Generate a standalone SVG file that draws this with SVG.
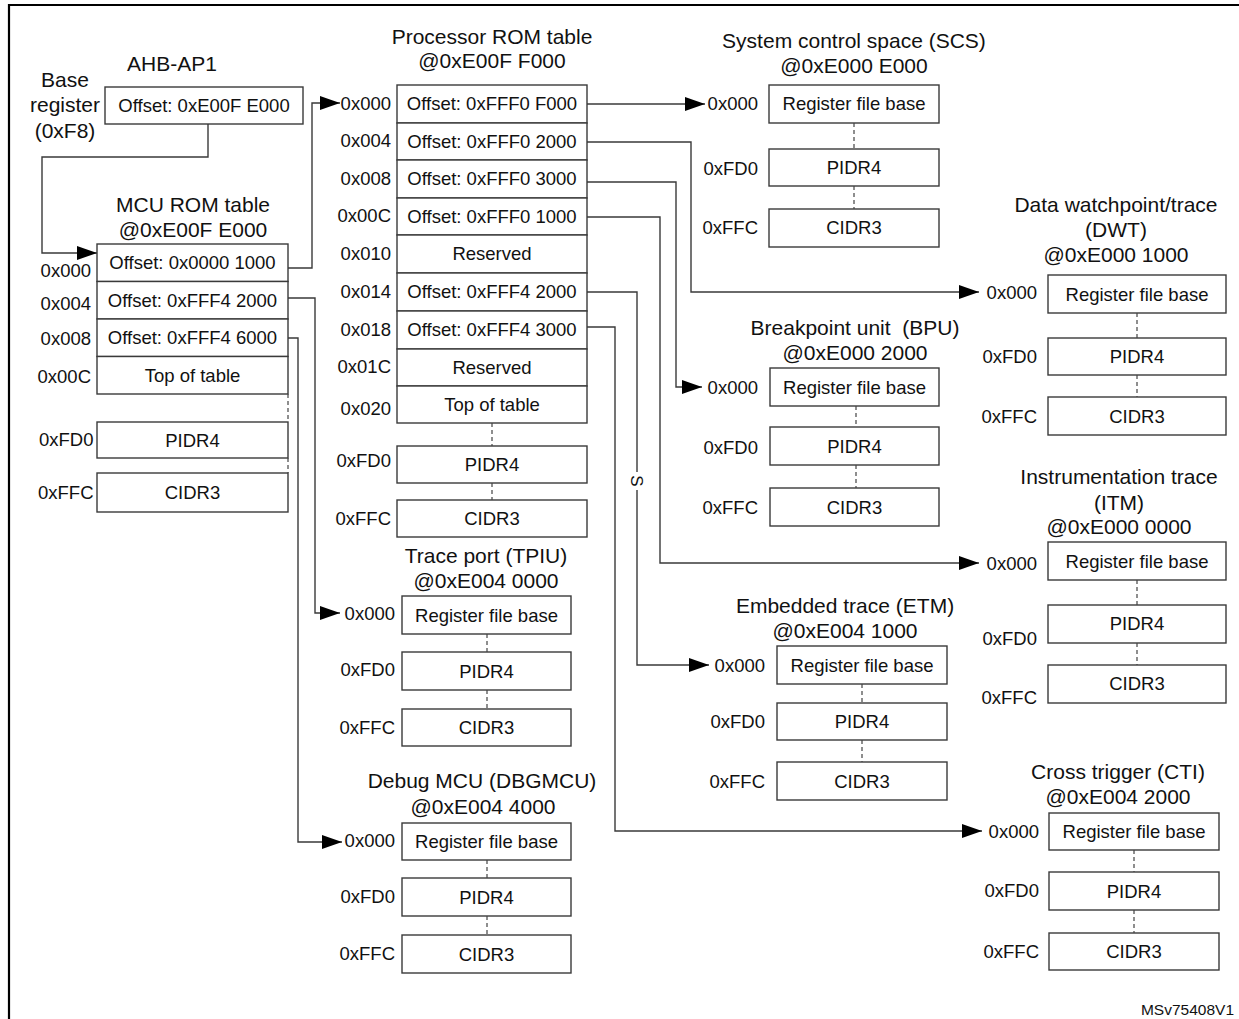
<svg xmlns="http://www.w3.org/2000/svg" width="1239" height="1019" viewBox="0 0 1239 1019">
<style>
.b{fill:#fff;stroke:#3a3a3a;stroke-width:1.4}
.t{font-family:"Liberation Sans",Arial,sans-serif;font-size:18.5px;fill:#111}
.h{font-family:"Liberation Sans",Arial,sans-serif;font-size:21px;fill:#111;text-anchor:middle}
.m{text-anchor:middle}
.e{text-anchor:end}
.c{fill:none;stroke:#3a3a3a;stroke-width:1.4}
.d{fill:none;stroke:#444;stroke-width:1.2;stroke-dasharray:4 3}
</style>
<defs>
<marker id="arr" markerUnits="userSpaceOnUse" markerWidth="20" markerHeight="14" refX="20" refY="7" orient="auto">
<path d="M0,0 L20,7 L0,14 z" fill="#000"/>
</marker>
</defs>
<rect width="1239" height="1019" fill="#fff"/>
<path d="M9,1019 V5 H1239" fill="none" stroke="#000" stroke-width="2.2"/>

<g id="connectors">
<path class="c" d="M208,124 V157 H42 V253 H97" marker-end="url(#arr)"/>
<path class="c" d="M288,268 H312 V103 H340" marker-end="url(#arr)"/>
<path class="c" d="M288,298 H315 V613 H340" marker-end="url(#arr)"/>
<path class="c" d="M288,338 H298 V842 H342" marker-end="url(#arr)"/>
<path class="c" d="M587,104 H705" marker-end="url(#arr)"/>
<path class="c" d="M587,142 H691 V292 H979" marker-end="url(#arr)"/>
<path class="c" d="M587,182 H676 V387 H702" marker-end="url(#arr)"/>
<path class="c" d="M587,217 H660 V563 H979" marker-end="url(#arr)"/>
<path class="c" d="M587,292 H637 V472 M637,490 V665 H709" marker-end="url(#arr)"/>
<path class="c" d="M587,327 H615 V831 H982" marker-end="url(#arr)"/>
<text class="t m" transform="translate(637,481) rotate(90)" x="0" y="6" style="font-size:17px">S</text>
</g>

<g id="ahb-ap1">
<text class="h" x="172" y="70.5">AHB-AP1</text>
<text class="h" x="65" y="86.5">Base</text>
<text class="h" x="65" y="112">register</text>
<text class="h" x="65" y="137.5">(0xF8)</text>
<rect class="b" x="105" y="87" width="198" height="37"/>
<text class="t m" x="204" y="111.6">Offset: 0xE00F E000</text>
</g>

<g id="mcu-rom-table">
<text class="h" x="193" y="211.5">MCU ROM table</text>
<text class="h" x="193" y="236.5">@0xE00F E000</text>
<rect class="b" x="97" y="244" width="191" height="37.5"/>
<rect class="b" x="97" y="281.5" width="191" height="37.5"/>
<rect class="b" x="97" y="319" width="191" height="37.5"/>
<rect class="b" x="97" y="356.5" width="191" height="37.5"/>
<rect class="b" x="97" y="422" width="191" height="36"/>
<rect class="b" x="97" y="473" width="191" height="39"/>
<path class="d" d="M288,394 V422 M288,458 V473"/>
<text class="t m" x="192.5" y="269">Offset: 0x0000 1000</text>
<text class="t m" x="192.5" y="306.6">Offset: 0xFFF4 2000</text>
<text class="t m" x="192.5" y="344.3">Offset: 0xFFF4 6000</text>
<text class="t m" x="192.5" y="382.3">Top of table</text>
<text class="t m" x="192.5" y="446.6">PIDR4</text>
<text class="t m" x="192.5" y="499">CIDR3</text>
<text class="t e" x="91" y="276.6">0x000</text>
<text class="t e" x="91" y="309.6">0x004</text>
<text class="t e" x="91" y="344.6">0x008</text>
<text class="t e" x="91" y="382.6">0x00C</text>
<text class="t e" x="93.5" y="445.6">0xFD0</text>
<text class="t e" x="93.5" y="498.6">0xFFC</text>
</g>

<g id="processor-rom-table">
<text class="h" x="492" y="43.5">Processor ROM table</text>
<text class="h" x="492" y="67.5">@0xE00F F000</text>
<rect class="b" x="397" y="85" width="190" height="38"/>
<rect class="b" x="397" y="123" width="190" height="37"/>
<rect class="b" x="397" y="160" width="190" height="38"/>
<rect class="b" x="397" y="198" width="190" height="37"/>
<rect class="b" x="397" y="235" width="190" height="38"/>
<rect class="b" x="397" y="273" width="190" height="38"/>
<rect class="b" x="397" y="311" width="190" height="38"/>
<rect class="b" x="397" y="349" width="190" height="37"/>
<rect class="b" x="397" y="386" width="190" height="37"/>
<rect class="b" x="397" y="446" width="190" height="37"/>
<rect class="b" x="397" y="500" width="190" height="37"/>
<path class="d" d="M492,423 V446 M492,483 V500"/>
<text class="t m" x="492" y="110.3">Offset: 0xFFF0 F000</text>
<text class="t m" x="492" y="147.8">Offset: 0xFFF0 2000</text>
<text class="t m" x="492" y="185.3">Offset: 0xFFF0 3000</text>
<text class="t m" x="492" y="222.8">Offset: 0xFFF0 1000</text>
<text class="t m" x="492" y="260.3">Reserved</text>
<text class="t m" x="492" y="298.3">Offset: 0xFFF4 2000</text>
<text class="t m" x="492" y="336">Offset: 0xFFF4 3000</text>
<text class="t m" x="492" y="373.6">Reserved</text>
<text class="t m" x="492" y="410.8">Top of table</text>
<text class="t m" x="492" y="470.8">PIDR4</text>
<text class="t m" x="492" y="525">CIDR3</text>
<text class="t e" x="391" y="109.6">0x000</text>
<text class="t e" x="391" y="147.3">0x004</text>
<text class="t e" x="391" y="184.6">0x008</text>
<text class="t e" x="391" y="222.3">0x00C</text>
<text class="t e" x="391" y="259.6">0x010</text>
<text class="t e" x="391" y="298.3">0x014</text>
<text class="t e" x="391" y="335.9">0x018</text>
<text class="t e" x="391" y="373.3">0x01C</text>
<text class="t e" x="391" y="414.6">0x020</text>
<text class="t e" x="391" y="466.6">0xFD0</text>
<text class="t e" x="391" y="524.6">0xFFC</text>
</g>

<g id="scs">
<text class="h" x="854" y="47.5">System control space (SCS)</text>
<text class="h" x="854" y="72.5">@0xE000 E000</text>
<rect class="b" x="769" y="85" width="170" height="38"/>
<rect class="b" x="769" y="149" width="170" height="37"/>
<rect class="b" x="769" y="209" width="170" height="38"/>
<path class="d" d="M854,123 V149 M854,186 V209"/>
<text class="t m" x="854" y="110.3">Register file base</text>
<text class="t m" x="854" y="174.1">PIDR4</text>
<text class="t m" x="854" y="234.3">CIDR3</text>
<text class="t e" x="758" y="110">0x000</text>
<text class="t e" x="758" y="174.6">0xFD0</text>
<text class="t e" x="758" y="233.6">0xFFC</text>
</g>

<g id="dwt">
<text class="h" x="1116" y="211.5">Data watchpoint/trace</text>
<text class="h" x="1116" y="236.5">(DWT)</text>
<text class="h" x="1116" y="261.5">@0xE000 1000</text>
<rect class="b" x="1048" y="275" width="178" height="38"/>
<rect class="b" x="1048" y="338" width="178" height="37"/>
<rect class="b" x="1048" y="397" width="178" height="38"/>
<path class="d" d="M1137,313 V338 M1137,375 V397"/>
<text class="t m" x="1137" y="300.6">Register file base</text>
<text class="t m" x="1137" y="363">PIDR4</text>
<text class="t m" x="1137" y="422.6">CIDR3</text>
<text class="t e" x="1037" y="298.6">0x000</text>
<text class="t e" x="1037" y="363">0xFD0</text>
<text class="t e" x="1037" y="422.6">0xFFC</text>
</g>

<g id="bpu">
<text class="h" x="855" y="334.5" xml:space="preserve">Breakpoint unit  (BPU)</text>
<text class="h" x="855" y="359.5">@0xE000 2000</text>
<rect class="b" x="770" y="368" width="169" height="38"/>
<rect class="b" x="770" y="427" width="169" height="38"/>
<rect class="b" x="770" y="488" width="169" height="38"/>
<path class="d" d="M856,406 V427 M856,465 V488"/>
<text class="t m" x="854.5" y="393.6">Register file base</text>
<text class="t m" x="854.5" y="452.6">PIDR4</text>
<text class="t m" x="854.5" y="513.6">CIDR3</text>
<text class="t e" x="758" y="393.6">0x000</text>
<text class="t e" x="758" y="453.6">0xFD0</text>
<text class="t e" x="758" y="513.6">0xFFC</text>
</g>

<g id="itm">
<text class="h" x="1119" y="484">Instrumentation trace</text>
<text class="h" x="1119" y="509.5">(ITM)</text>
<text class="h" x="1119" y="534">@0xE000 0000</text>
<rect class="b" x="1048" y="542" width="178" height="38"/>
<rect class="b" x="1048" y="605" width="178" height="38"/>
<rect class="b" x="1048" y="665" width="178" height="38"/>
<path class="d" d="M1137,580 V605 M1137,643 V665"/>
<text class="t m" x="1137" y="567.6">Register file base</text>
<text class="t m" x="1137" y="629.6">PIDR4</text>
<text class="t m" x="1137" y="690">CIDR3</text>
<text class="t e" x="1037" y="569.6">0x000</text>
<text class="t e" x="1037" y="644.6">0xFD0</text>
<text class="t e" x="1037" y="703.6">0xFFC</text>
</g>

<g id="tpiu">
<text class="h" x="486" y="562.5">Trace port (TPIU)</text>
<text class="h" x="486" y="587.5">@0xE004 0000</text>
<rect class="b" x="402" y="596" width="169" height="38"/>
<rect class="b" x="402" y="652" width="169" height="38"/>
<rect class="b" x="402" y="709" width="169" height="37"/>
<path class="d" d="M487,634 V652 M487,690 V709"/>
<text class="t m" x="486.5" y="621.6">Register file base</text>
<text class="t m" x="486.5" y="677.6">PIDR4</text>
<text class="t m" x="486.5" y="734">CIDR3</text>
<text class="t e" x="395" y="619.6">0x000</text>
<text class="t e" x="395" y="675.6">0xFD0</text>
<text class="t e" x="395" y="733.6">0xFFC</text>
</g>

<g id="etm">
<text class="h" x="845" y="612.5">Embedded trace (ETM)</text>
<text class="h" x="845" y="637.5">@0xE004 1000</text>
<rect class="b" x="777" y="646" width="170" height="38"/>
<rect class="b" x="777" y="703" width="170" height="37"/>
<rect class="b" x="777" y="762" width="170" height="38"/>
<path class="d" d="M862,684 V703 M862,740 V762"/>
<text class="t m" x="862" y="671.6">Register file base</text>
<text class="t m" x="862" y="728">PIDR4</text>
<text class="t m" x="862" y="787.6">CIDR3</text>
<text class="t e" x="765" y="671.6">0x000</text>
<text class="t e" x="765" y="727.6">0xFD0</text>
<text class="t e" x="765" y="787.6">0xFFC</text>
</g>

<g id="dbgmcu">
<text class="h" x="482" y="787.5">Debug MCU (DBGMCU)</text>
<text class="h" x="483" y="813.5">@0xE004 4000</text>
<rect class="b" x="402" y="823" width="169" height="37"/>
<rect class="b" x="402" y="878" width="169" height="38"/>
<rect class="b" x="402" y="935" width="169" height="38"/>
<path class="d" d="M487,860 V878 M487,916 V935"/>
<text class="t m" x="486.5" y="848">Register file base</text>
<text class="t m" x="486.5" y="903.6">PIDR4</text>
<text class="t m" x="486.5" y="960.6">CIDR3</text>
<text class="t e" x="395" y="846.6">0x000</text>
<text class="t e" x="395" y="902.6">0xFD0</text>
<text class="t e" x="395" y="959.6">0xFFC</text>
</g>

<g id="cti">
<text class="h" x="1118" y="778.5">Cross trigger (CTI)</text>
<text class="h" x="1118" y="803.5">@0xE004 2000</text>
<rect class="b" x="1049" y="813" width="170" height="37"/>
<rect class="b" x="1049" y="872" width="170" height="38"/>
<rect class="b" x="1049" y="933" width="170" height="37"/>
<path class="d" d="M1134,850 V872 M1134,910 V933"/>
<text class="t m" x="1134" y="838">Register file base</text>
<text class="t m" x="1134" y="897.6">PIDR4</text>
<text class="t m" x="1134" y="958">CIDR3</text>
<text class="t e" x="1039" y="837.6">0x000</text>
<text class="t e" x="1039" y="896.6">0xFD0</text>
<text class="t e" x="1039" y="957.6">0xFFC</text>
</g>

<text class="t e" x="1234" y="1015" style="font-size:15.5px">MSv75408V1</text>
</svg>
